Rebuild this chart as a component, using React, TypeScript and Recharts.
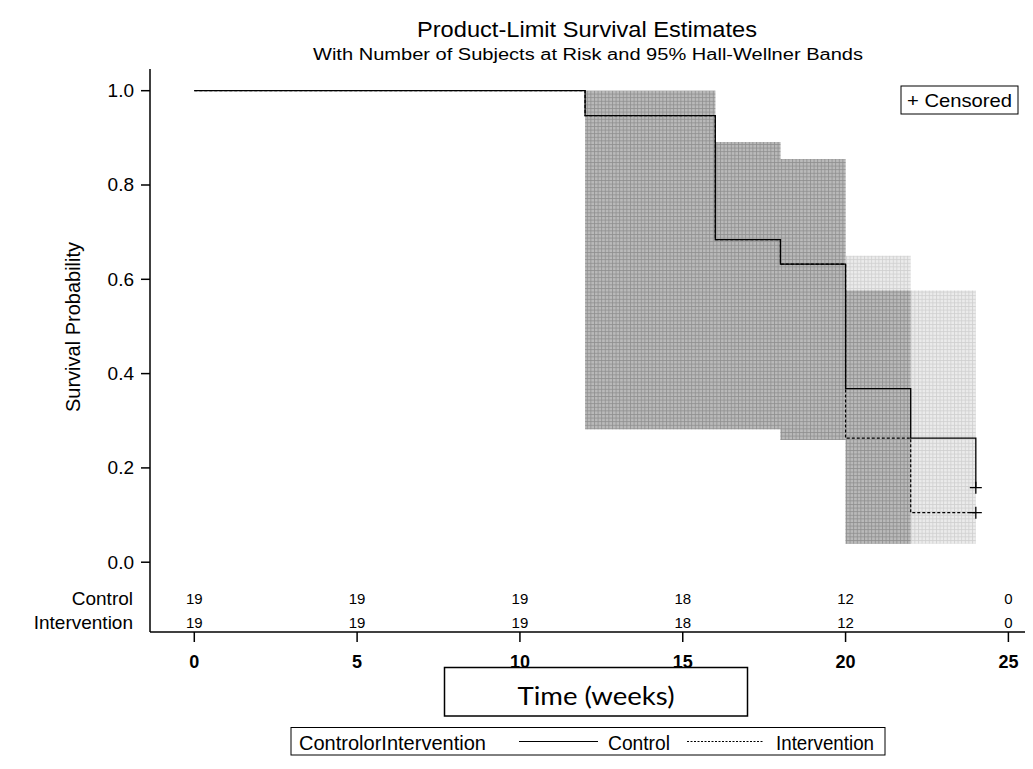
import React from 'react';
import { ComposedChart, Line, Area, Scatter, XAxis, YAxis } from 'recharts';

const FONT = '"Liberation Sans", Arial, Helvetica, sans-serif';

// ---------- data ----------
const groups = ['Control', 'Intervention'];
const legendTitle = 'ControlorIntervention';
const censorLabel = '+ Censored';
const titleText = 'Product-Limit Survival Estimates';
const subtitleText = 'With Number of Subjects at Risk and 95% Hall-Wellner Bands';
const xAxisTitle = 'Time (weeks)';
const yAxisTitle = 'Survival Probability';

const xTicks = [0, 5, 10, 15, 20, 25];
const yTicks = [0, 0.2, 0.4, 0.6, 0.8, 1.0];

const riskTimes = [0, 5, 10, 15, 20, 25];
const riskControl = [19, 19, 19, 18, 12, 0];
const riskIntervention = [19, 19, 19, 18, 12, 0];

const controlTimes = [0, 12, 16, 18, 20, 22, 24];
const controlSurv = [1.0, 0.947, 0.684, 0.632, 0.368, 0.263, 0.158];
const interventionTimes = [0, 12, 16, 18, 20, 22, 24];
const interventionSurv = [1.0, 0.947, 0.684, 0.632, 0.263, 0.105, 0.105];

const censorTimes = [24, 24];
const censorSurv = [0.158, 0.105];

const controlBandTimes = [12, 16, 18, 20, 22];
const controlBandLow = [0.282, 0.282, 0.259, 0.039, 0.039];
const controlBandHigh = [1.0, 0.891, 0.855, 0.65, 0.65];
const interventionBandTimes = [12, 16, 18, 20, 22, 24];
const interventionBandLow = [0.282, 0.282, 0.259, 0.039, 0.039, 0.039];
const interventionBandHigh = [1.0, 0.891, 0.855, 0.576, 0.576, 0.576];

// ---------- layout ----------
const W = 1033;
const H = 769;
const X_DOMAIN: [number, number] = [-1.36, 25.51];
const Y_DOMAIN: [number, number] = [-0.148, 1.046];
const ROW_Y = [-0.076, -0.128];

// ---------- derived tables ----------
const toLine = (ts: number[], vs: number[]) => ts.map((t, i) => ({ t, s: vs[i] }));
const toBand = (ts: number[], lo: number[], hi: number[]) =>
  ts.map((t, i) => ({ t, band: [lo[i], hi[i]] }));
const stepAt = (ts: number[], vs: number[], t: number) => {
  let v = vs[0];
  for (let i = 0; i < ts.length; i++) if (ts[i] <= t) v = vs[i];
  return v;
};

const controlData = toLine(controlTimes, controlSurv);
const interventionData = toLine(interventionTimes, interventionSurv);
const controlBand = toBand(controlBandTimes, controlBandLow, controlBandHigh);
const interventionBand = toBand(interventionBandTimes, interventionBandLow, interventionBandHigh);

const ovStart = Math.max(controlBandTimes[0], interventionBandTimes[0]);
const ovEnd = Math.min(
  controlBandTimes[controlBandTimes.length - 1],
  interventionBandTimes[interventionBandTimes.length - 1]
);
const ovTimes = Array.from(new Set([...controlBandTimes, ...interventionBandTimes]))
  .filter((t) => t >= ovStart && t <= ovEnd)
  .sort((a, b) => a - b);
const overlapBand = ovTimes.map((t) => ({
  t,
  band: [
    Math.max(stepAt(controlBandTimes, controlBandLow, t), stepAt(interventionBandTimes, interventionBandLow, t)),
    Math.min(stepAt(controlBandTimes, controlBandHigh, t), stepAt(interventionBandTimes, interventionBandHigh, t)),
  ],
}));

const censorData = censorTimes.map((t, i) => ({ t, s: censorSurv[i] }));
const riskRows = [riskControl, riskIntervention].map((row, r) =>
  riskTimes.map((t, i) => ({ t, y: ROW_Y[r], n: row[i] }))
);

// ---------- renderers ----------
const YTick = (props: any) => {
  const { x, y, payload } = props;
  const v = payload.value;
  const idx = ROW_Y.indexOf(v);
  if (idx >= 0) {
    return (
      <text x={x - 1} y={y} textAnchor="end" dominantBaseline="central" fontSize={19} fontFamily={FONT} fill="#000">
        {groups[idx]}
      </text>
    );
  }
  return (
    <g>
      <line x1={x + 7} x2={x + 16} y1={y} y2={y} stroke="#000" strokeWidth={1.5} />
      <text x={x} y={y} textAnchor="end" dominantBaseline="central" fontSize={19} fontFamily={FONT} fill="#000">
        {Number(v).toFixed(1)}
      </text>
    </g>
  );
};

const RiskText = (props: any) => (
  <text x={props.cx} y={props.cy} textAnchor="middle" dominantBaseline="central" fontSize={15} fontFamily={FONT} fill="#000">
    {props.payload.n}
  </text>
);

const Plus = (props: any) => {
  const { cx, cy } = props;
  return (
    <path d={`M${cx - 6} ${cy}H${cx + 6}M${cx} ${cy - 6}V${cy + 6}`} stroke="#000" strokeWidth={1.3} fill="none" />
  );
};

export default function App() {
  return (
    <div style={{ position: 'absolute', left: 0, top: 0, width: W, height: H, background: '#fff' }}>
      <svg width={0} height={0} style={{ position: 'absolute' }}>
        <defs>
          <pattern id="bandLight" patternUnits="userSpaceOnUse" width={3.6} height={3.6}>
            <rect width={3.6} height={3.6} fill="#ebebeb" />
            <path d="M0 0.5H3.6M0.5 0V3.6" stroke="#cfcfcf" strokeWidth={0.8} />
          </pattern>
          <pattern id="bandDark" patternUnits="userSpaceOnUse" width={3.6} height={3.6}>
            <rect width={3.6} height={3.6} fill="#bababa" />
            <path d="M0 0.5H3.6M0.5 0V3.6" stroke="#8e8e8e" strokeWidth={0.8} />
          </pattern>
        </defs>
      </svg>
      <ComposedChart width={W} height={H} margin={{ top: 69, right: 8, bottom: 97, left: 70 }}>
        <XAxis
          dataKey="t"
          type="number"
          domain={X_DOMAIN}
          allowDataOverflow
          ticks={xTicks}
          interval={0}
          height={40}
          tickSize={10}
          tickMargin={13}
          axisLine={{ stroke: '#000', strokeWidth: 1.5 }}
          tickLine={{ stroke: '#000', strokeWidth: 1.5 }}
          tick={{ fontSize: 18, fontWeight: 'bold', fill: '#000', fontFamily: FONT }}
        />
        <XAxis
          xAxisId="top"
          orientation="top"
          dataKey="t"
          type="number"
          domain={X_DOMAIN}
          allowDataOverflow
          height={0}
          tick={false}
          tickLine={false}
          axisLine={{ stroke: '#000', strokeWidth: 1.5 }}
        />
        <YAxis
          type="number"
          domain={Y_DOMAIN}
          allowDataOverflow
          ticks={[...ROW_Y, ...yTicks]}
          interval={0}
          width={80}
          tickSize={9}
          tickMargin={7}
          tickLine={false}
          axisLine={{ stroke: '#000', strokeWidth: 1.5 }}
          tick={<YTick />}
        />
        <YAxis
          yAxisId="r"
          orientation="right"
          type="number"
          domain={Y_DOMAIN}
          allowDataOverflow
          width={0}
          tick={false}
          tickLine={false}
          axisLine={{ stroke: '#333', strokeWidth: 2 }}
        />
        <Area data={interventionBand} dataKey="band" type="stepAfter" stroke="none" fill="url(#bandLight)" fillOpacity={1} isAnimationActive={false} />
        <Area data={controlBand} dataKey="band" type="stepAfter" stroke="none" fill="url(#bandLight)" fillOpacity={1} isAnimationActive={false} />
        <Area data={overlapBand} dataKey="band" type="stepAfter" stroke="none" fill="url(#bandDark)" fillOpacity={1} isAnimationActive={false} />
        <Line data={controlData} dataKey="s" type="stepAfter" stroke="#000" strokeWidth={1.3} dot={false} isAnimationActive={false} />
        <Line data={interventionData} dataKey="s" type="stepAfter" stroke="#000" strokeWidth={1.2} strokeDasharray="3 2" dot={false} isAnimationActive={false} />
        <Scatter data={censorData} dataKey="s" shape={<Plus />} isAnimationActive={false} />
        <Scatter data={riskRows[0]} dataKey="y" shape={<RiskText />} isAnimationActive={false} />
        <Scatter data={riskRows[1]} dataKey="y" shape={<RiskText />} isAnimationActive={false} />
      </ComposedChart>
      <svg width={W} height={H} style={{ position: 'absolute', left: 0, top: 0, pointerEvents: 'none' }}>
        <text x={587} y={37} textAnchor="middle" fontSize={22} fontFamily={FONT} textLength={340} lengthAdjust="spacingAndGlyphs">
          {titleText}
        </text>
        <text x={588} y={60} textAnchor="middle" fontSize={16} fontFamily={FONT} textLength={550} lengthAdjust="spacingAndGlyphs">
          {subtitleText}
        </text>
        <text x={73} y={327} transform="rotate(-90 73 327)" textAnchor="middle" dominantBaseline="central" fontSize={20} fontFamily={FONT}>
          {yAxisTitle}
        </text>
        <rect x={444.5} y={667.5} width={303} height={48.5} fill="#fff" stroke="#000" strokeWidth={1.5} />
        <text x={596} y={705} textAnchor="middle" fontSize={25} fontFamily="Lato, 'Open Sans', sans-serif" textLength={157} lengthAdjust="spacingAndGlyphs">
          {xAxisTitle}
        </text>
        <rect x={291} y={727.5} width={594} height={27.5} fill="#fff" stroke="#000" strokeWidth={1} />
        <text x={299} y={750} fontSize={20} fontFamily={FONT} textLength={187} lengthAdjust="spacingAndGlyphs">
          {legendTitle}
        </text>
        <line x1={519} x2={598} y1={741.5} y2={741.5} stroke="#000" strokeWidth={1} />
        <text x={608} y={750} fontSize={20} fontFamily={FONT} textLength={62} lengthAdjust="spacingAndGlyphs">
          {groups[0]}
        </text>
        <line x1={687} x2={763} y1={741.5} y2={741.5} stroke="#000" strokeWidth={1} strokeDasharray="2 1.5" />
        <text x={776} y={750} fontSize={20} fontFamily={FONT} textLength={98} lengthAdjust="spacingAndGlyphs">
          {groups[1]}
        </text>
        <rect x={901} y={86} width={117} height={28} fill="#fff" stroke="#000" strokeWidth={1} />
        <text x={907} y={107} fontSize={19} fontFamily={FONT} textLength={105} lengthAdjust="spacingAndGlyphs">
          {censorLabel}
        </text>
      </svg>
    </div>
  );
}
